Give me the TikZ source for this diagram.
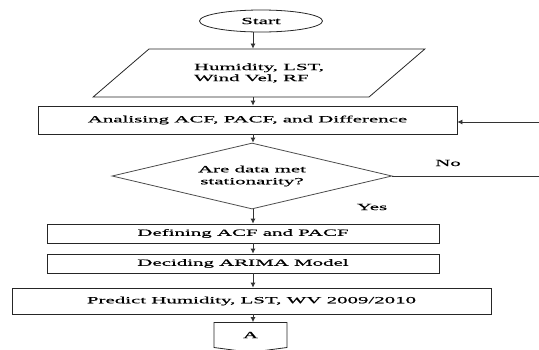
\documentclass[tikz,border=0pt]{standalone}
\usepackage{fontspec}
\setmainfont{Liberation Serif}[FakeStretch=2.2,FakeBold=0.6]
\usetikzlibrary{arrows.meta,positioning,shapes.geometric,shapes.symbols}

\begin{document}
\begin{tikzpicture}[x=1pt,y=-1pt,
  terminal/.style={draw=black!85,thick,ellipse,minimum width=123pt,
    minimum height=22pt,inner sep=0pt,font=\fontsize{9.5}{11}\selectfont},
  datain/.style={draw=black!85,thick,trapezium,trapezium left angle=30,
    trapezium right angle=150,trapezium stretches=true,minimum width=332pt,
    minimum height=48pt,inner sep=0pt,align=left,
    font=\fontsize{9.5}{11}\selectfont},
  process/.style={draw=black!85,thick,rectangle,inner sep=0pt,
    font=\fontsize{9.5}{11}\selectfont},
  decision/.style={draw=black!70,thick,diamond,aspect=4.2,
    minimum width=280pt,minimum height=66pt,inner sep=0pt,align=center,
    font=\fontsize{9.5}{12}\selectfont},
  offpage/.style={draw=black!85,thick,signal,signal to=south,
    signal pointer angle=165,minimum width=73pt,minimum height=26pt,
    inner sep=0pt,font=\fontsize{9.5}{11}\selectfont},
  lbl/.style={font=\fontsize{9.5}{11}\selectfont},
  arr/.style={-{Latex[length=5pt,width=5pt]},thick,black!80}
]
  \useasboundingbox (0,0) rectangle (539,349);
  \coordinate (axis) at (253,0);

  \node[terminal] (start) at (261,21) {Start};
  \node[datain] (input) at (259,73) {Humidity, LST,\\Wind Vel, RF};
  \node[process,minimum width=419pt,minimum height=28pt] (analyse)
    at (247.5,120) {Analising ACF, PACF, and Difference};
  \node[decision] (decide) at (252,176) {Are data met\\stationarity?};
  \node[process,minimum width=392pt,minimum height=19pt] (define)
    at (243,233.5) {Defining ACF and PACF};
  \node[process,minimum width=392pt,minimum height=19pt] (model)
    at (243,263.5) {Deciding ARIMA Model};
  \node[process,minimum width=479pt,minimum height=26pt] (predict)
    at (251.5,301) {Predict Humidity, LST, WV 2009/2010};
  \node[offpage] (conn) at (250.5,335) {A};

  \draw[arr] (start.south -| axis) -- (input.north -| axis);
  \draw[arr] (input.south -| axis) -- (analyse.north -| axis);
  \draw[arr] (analyse.south -| axis) -- (decide.north -| axis);
  \draw[arr] (decide.south -| axis) -- (define.north -| axis);
  \draw[arr] (define.south -| axis) -- (model.north -| axis);
  \draw[arr] (model.south -| axis) -- (predict.north -| axis);
  \draw[arr] (predict.south -| axis) -- (conn.north -| axis);

  % loop back when not stationary
  \coordinate (back) at (545,176);
  \draw[arr] (decide.east) -- (back) |- ([yshift=-2pt]analyse.east);
  \node[lbl] (no) at (448,163) {No};
  \node[lbl] (yes) at (372,207) {Yes};
\end{tikzpicture}
\end{document}
